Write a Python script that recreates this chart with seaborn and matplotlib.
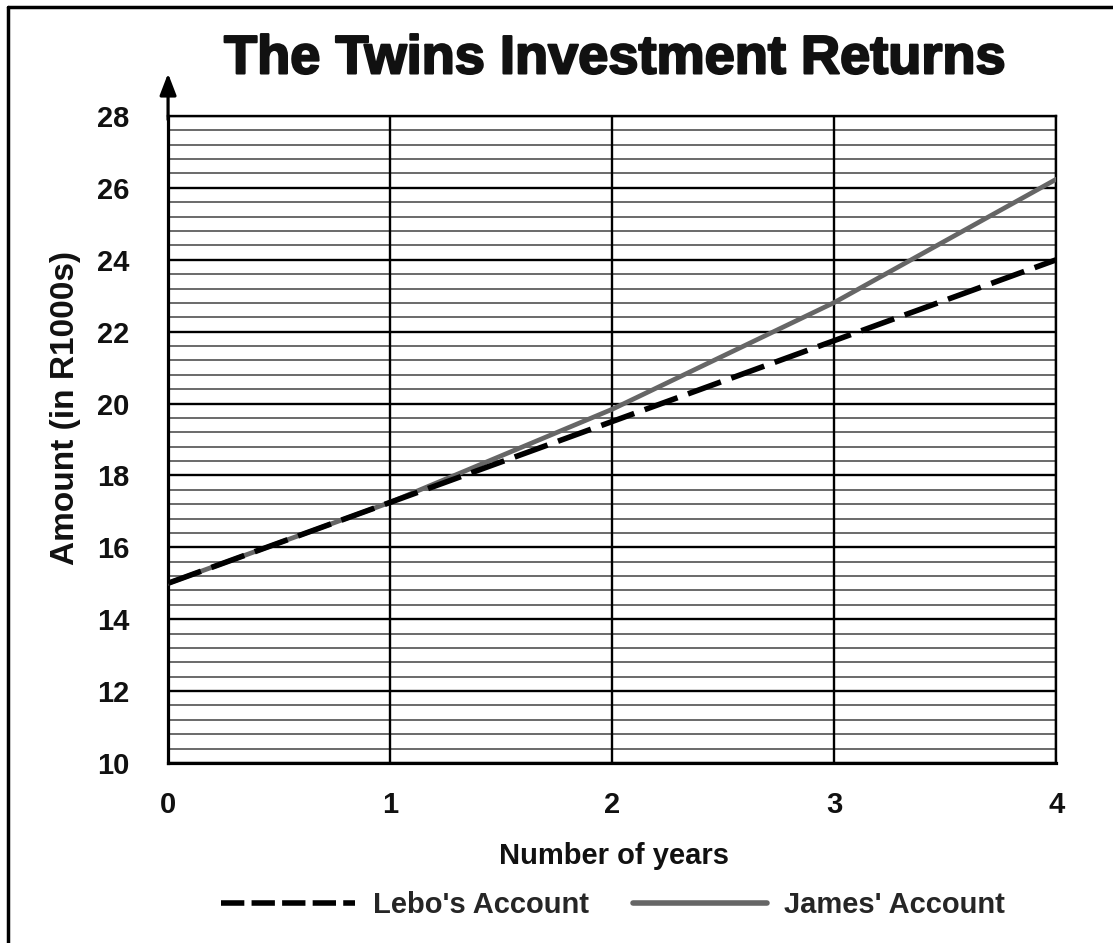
import numpy as np
import pandas as pd
import matplotlib
matplotlib.use("Agg")
import matplotlib.pyplot as plt
import matplotlib.patheffects as pe
from matplotlib.lines import Line2D
import seaborn as sns

# values
years = [0, 1, 2, 3, 4]
lebo = [15.0, 17.25, 19.5, 21.75, 24.0]
james = [15.0, 17.25, 19.84, 22.81, 26.24]
y_ticks = [10, 12, 14, 16, 18, 20, 22, 24, 26, 28]

df = pd.DataFrame({"years": years, "Lebo's Account": lebo, "James' Account": james})

sns.set_style("white")
plt.rcParams['font.family'] = ['Liberation Sans', 'DejaVu Sans']

fig = plt.figure(figsize=(11.13, 9.43), dpi=100)
ax = fig.add_axes([0.151, 0.1909, 0.798, 0.6861])

# grid: heavy line every 2, light line every 0.4
for v in np.arange(10, 28.01, 0.4):
    major = abs(v / 2 - round(v / 2)) < 1e-6
    ax.axhline(v, color="black" if major else "#505050",
               lw=1.7 if major else 1.2, zorder=1)
for x in years[1:]:
    ax.axvline(x, color="black", lw=1.7, zorder=1)

sns.lineplot(data=df, x="years", y="James' Account", ax=ax, color="#666666",
             lw=3.4, zorder=3)
sns.lineplot(data=df, x="years", y="Lebo's Account", ax=ax, color="black",
             lw=4.0, linestyle=(0, (6.3, 2.0)), zorder=4)

ax.set_xlim(0, 4)
ax.set_ylim(10, 28)
ax.set_xticks(years)
ax.set_yticks(y_ticks)
ax.tick_params(axis="x", direction="out", length=11, width=1.7, color="black",
               pad=9, labelsize=21)
ax.tick_params(axis="y", length=0, pad=28, labelsize=21)
for lab in ax.get_xticklabels() + ax.get_yticklabels():
    lab.set_fontweight("bold")
    lab.set_color("#111111")
for s in ax.spines.values():
    s.set_visible(True)
    s.set_color("black")
    s.set_linewidth(1.7)
ax.spines["left"].set_linewidth(2.3)
ax.spines["bottom"].set_linewidth(2.3)
ax.set_xlabel("")
ax.set_ylabel("")

# arrow on y axis
ax.annotate("", xy=(0, 1.07), xytext=(0, 0.99), xycoords="axes fraction",
            arrowprops=dict(arrowstyle="-|>,head_length=1.3,head_width=0.5",
                            color="black", lw=2.3), annotation_clip=False)

fig.text(0.552, 0.937, "The Twins Investment Returns", ha="center", va="center",
         fontsize=39, fontweight="bold", color="#111111",
         path_effects=[pe.withStroke(linewidth=1.6, foreground="#111111")])
fig.text(0.552, 0.092, "Number of years", ha="center", va="center",
         fontsize=21, fontweight="bold", color="#111111")
fig.text(0.059, 0.567, "Amount (in R1000s)", ha="center", va="center",
         rotation=90, fontsize=24, fontweight="bold", color="#111111")

handles = [Line2D([], [], color="black", lw=4.0, linestyle=(0, (4.2, 1.3))),
           Line2D([], [], color="#666666", lw=4.0)]
fig.legend(handles, ["Lebo's Account", "James' Account"], loc="center",
           bbox_to_anchor=(0.551, 0.040), ncol=2, frameon=False,
           handlelength=4.6, handletextpad=0.6, columnspacing=1.5,
           prop=dict(weight="bold", size=21))

# border of the page
fig.add_artist(Line2D([0.0072, 0.0072], [0, 0.9926], color="black", lw=2.5,
                      transform=fig.transFigure))
fig.add_artist(Line2D([0.0072, 1.0], [0.9926, 0.9926], color="black", lw=2.5,
                      transform=fig.transFigure))

fig.savefig("out.png", dpi=100, facecolor="white")
